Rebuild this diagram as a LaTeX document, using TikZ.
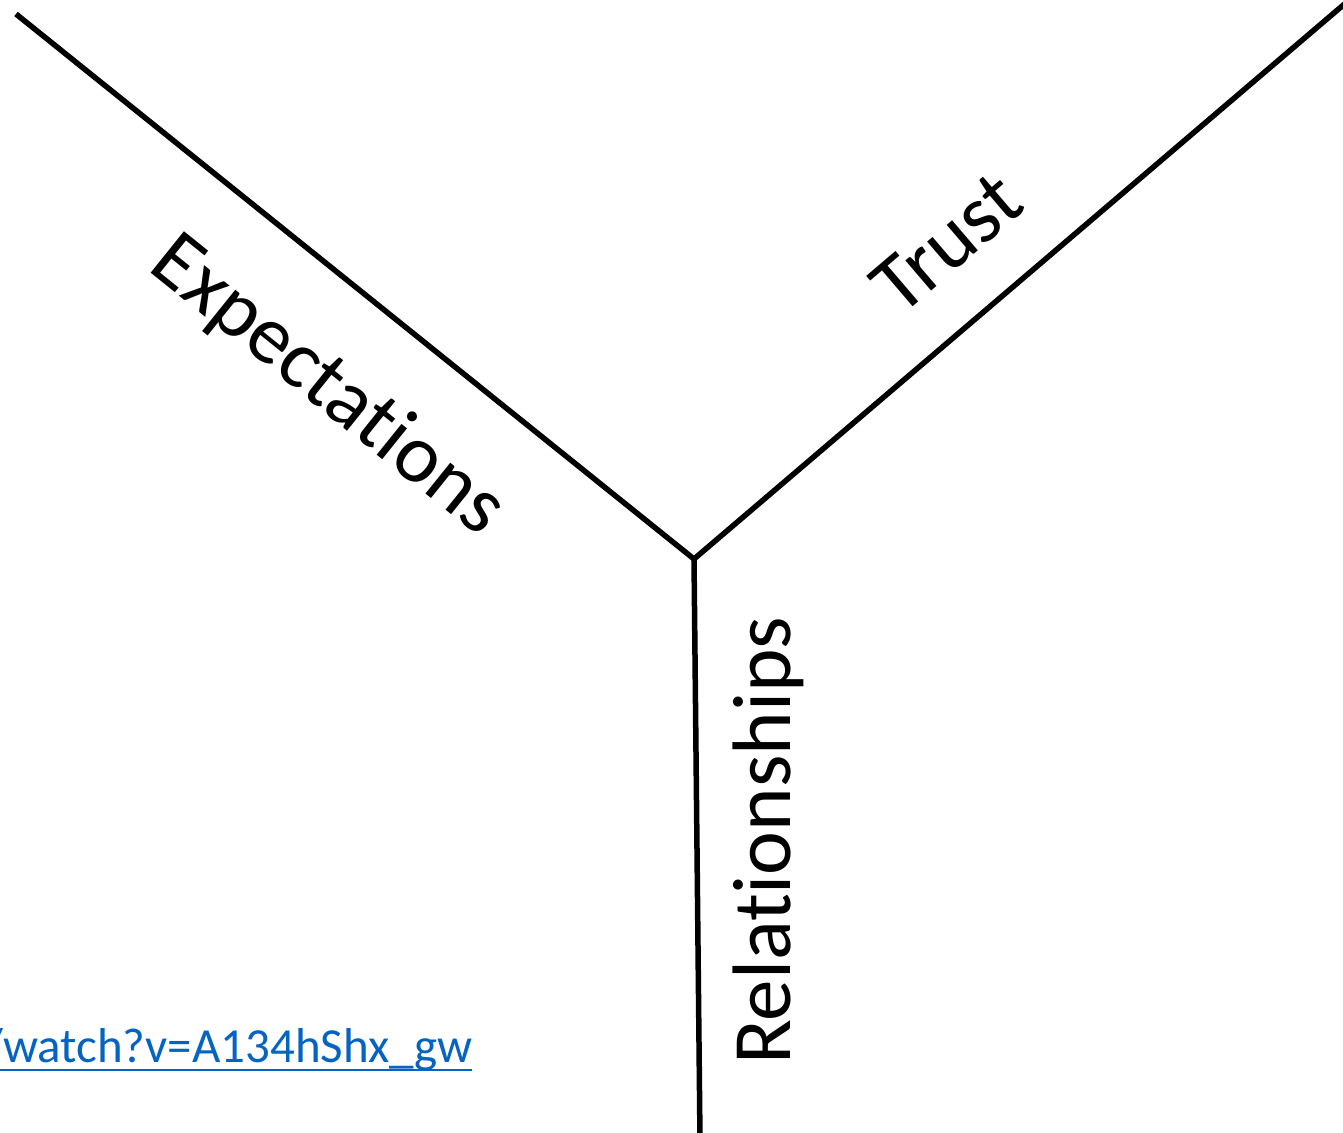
\documentclass[tikz,border=0pt]{standalone}
\usepackage{fontspec}
\setmainfont{Carlito}[Ligatures={NoCommon}]
\usepackage{xcolor}
\usepackage{tikz}
\definecolor{linkblue}{RGB}{5,99,193}
\def\labelsize{\fontsize{83}{93}\selectfont}
\def\linksize{\fontsize{49}{58}\selectfont}

\begin{document}
\begin{tikzpicture}[x=1pt,y=-1pt,
    armline/.style={line width=5.5pt, black, line join=miter},
    armlabel/.style={font=\labelsize, inner sep=0pt, anchor=base}]

  \useasboundingbox (0,0) rectangle (1343,1132);

  % the three arms of the Y
  \coordinate (hub) at (694,559);
  \coordinate (leftend) at (16,14);
  \coordinate (rightend) at (1348,1);
  \coordinate (footend) at (700,1140);
  \draw[armline] (leftend) -- (hub) -- (rightend);
  \draw[armline] (hub) -- (footend);

  \node[armlabel, rotate=-38.8] (expect) at (314,404) {Expectations};
  \node[armlabel, rotate=40.5] (trust) at (964,263) {Trust};
  \node[armlabel, rotate=90] (relation) at (790,841) {Relationships};

  % cut-off link at the bottom left
  \node[font=\linksize, text=linkblue, inner sep=0pt, anchor=base west]
    (link) at (-16,1062) {/watch?v=A134hShx\_gw};
  \draw[linkblue, line width=2.5pt]
    ([yshift=-8pt]link.base west) -- ([yshift=-8pt]link.base east);

\end{tikzpicture}
\end{document}
